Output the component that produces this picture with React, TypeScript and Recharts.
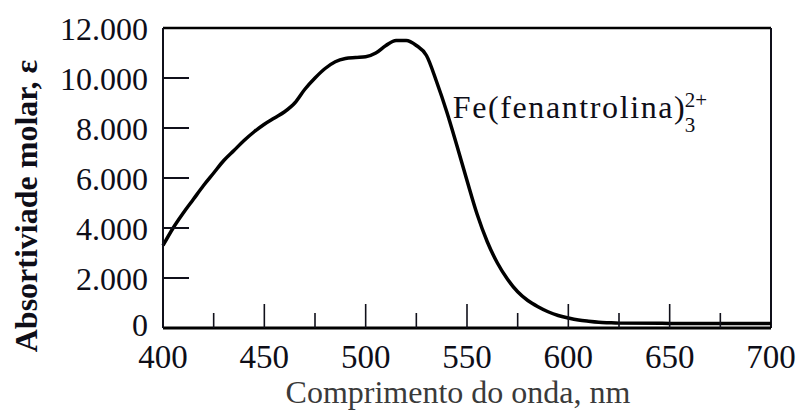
import React from 'react';
import { LineChart, Line, XAxis, YAxis, ReferenceLine, ReferenceDot } from 'recharts';

const wavelengths = [
  400, 405, 410, 415, 420, 425, 430, 435, 440, 445, 450, 455, 460, 465, 470, 475,
  480, 485, 490, 495, 500, 505, 510, 515, 520, 525, 530, 535, 540, 545, 550, 555,
  560, 565, 570, 575, 580, 585, 590, 595, 600, 605, 610, 615, 620, 625, 650, 675, 700,
];
const absorptivity = [
  3300, 4000, 4600, 5150, 5700, 6200, 6700, 7100, 7500, 7850, 8150, 8400, 8650, 9000, 9550, 10000,
  10380, 10650, 10780, 10820, 10850, 11000, 11300, 11500, 11500, 11300, 10900, 9850, 8650, 7300, 5900, 4550,
  3450, 2600, 1950, 1450, 1100, 850, 650, 500, 400, 320, 270, 230, 210, 195, 185, 180, 180,
];
const xTicks = [400, 425, 450, 475, 500, 525, 550, 575, 600, 625, 650, 675, 700];
const yTicks = [0, 2000, 4000, 6000, 8000, 10000, 12000];
const yTickLabels = ['0', '2.000', '4.000', '6.000', '8.000', '10.000', '12.000'];
const xTitle = 'Comprimento do onda, nm';
const yTitle = 'Absortiviade molar, \u03B5';
const annotationText = 'Fe(fenantrolina)';
const annotationSub = '3';
const annotationSup = '2+';
const annotationAt = { w: 543, e: 8400 };

const data = wavelengths.map((w, i) => ({ w, e: absorptivity[i] }));

const FONT = '"Liberation Serif", "Times New Roman", serif';
const TEXT = '#0e0e18';

const XTick = (props: any) => {
  const { x, y, payload } = props;
  const v = payload.value;
  const major = v % 50 === 0;
  const len = major ? 24 : 15;
  const showLine = v !== 400 && v !== 700;
  return (
    <g>
      {showLine && <line x1={x} x2={x} y1={y} y2={y - len} stroke="#10101a" strokeWidth={1.6} />}
      {major && (
        <text x={x} y={y + 40} textAnchor="middle" fontFamily={FONT} fontSize={33} fill={TEXT}>
          {v}
        </text>
      )}
    </g>
  );
};

const YTick = (props: any) => {
  const { x, y, payload } = props;
  const v = payload.value;
  const idx = yTicks.indexOf(v);
  const showLine = v !== 0 && v !== 12000;
  const dy = v === 0 ? 8 : 12;
  return (
    <g>
      {showLine && <line x1={x} x2={x + 26} y1={y} y2={y} stroke="#10101a" strokeWidth={2} />}
      <text x={x - 15} y={y + dy} textAnchor="end" fontFamily={FONT} fontSize={32} fill={TEXT}>
        {idx >= 0 ? yTickLabels[idx] : v}
      </text>
    </g>
  );
};

const XTitle = (props: any) => {
  const vb = props.viewBox;
  return (
    <text x={vb.x + vb.width / 2 - 9} y={vb.y + 75} textAnchor="middle" fontFamily={FONT} fontSize={32} fill="#3a3a3a">
      {xTitle}
    </text>
  );
};

const YTitle = (props: any) => {
  const vb = props.viewBox;
  const cx = vb.x + 26;
  const cy = vb.y + vb.height / 2 + 28;
  return (
    <text
      x={cx}
      y={cy}
      transform={`rotate(-90 ${cx} ${cy})`}
      textAnchor="middle"
      dominantBaseline="central"
      fontFamily={FONT}
      fontWeight="bold"
      fontSize={32}
      fill={TEXT}
    >
      {yTitle}
    </text>
  );
};

const Annotation = (props: any) => {
  const vb = props.viewBox;
  const x = vb.x;
  const y = vb.y;
  return (
    <g>
      <text x={x} y={y} fontFamily={FONT} fontSize={32} letterSpacing={1.6} fill={TEXT}>
        {annotationText}
      </text>
      <text x={x + 232} y={y + 14} fontFamily={FONT} fontSize={21} fill={TEXT}>
        {annotationSub}
      </text>
      <text x={x + 232} y={y - 11} fontFamily={FONT} fontSize={21} fill={TEXT}>
        {annotationSup}
      </text>
    </g>
  );
};

export default function App() {
  return (
    <div style={{ position: 'absolute', left: 0, top: 0, width: 801, height: 413, background: '#fff' }}>
      <LineChart width={801} height={413} data={data} margin={{ top: 28, right: 30, left: 0, bottom: 0 }}>
        <XAxis
          type="number"
          dataKey="w"
          domain={[400, 700]}
          ticks={xTicks}
          interval={0}
          height={85}
          axisLine={{ stroke: '#000', strokeWidth: 3 }}
          tickLine={false}
          tickSize={0}
          tickMargin={0}
          tick={<XTick />}
          label={<XTitle />}
        />
        <YAxis
          type="number"
          domain={[0, 12000]}
          ticks={yTicks}
          interval={0}
          width={163}
          axisLine={{ stroke: '#10101a', strokeWidth: 2 }}
          tickLine={false}
          tickSize={0}
          tickMargin={0}
          tick={<YTick />}
          label={<YTitle />}
        />
        <ReferenceLine y={12000} stroke="#000" strokeWidth={2.5} />
        <ReferenceLine x={700} stroke="#10101a" strokeWidth={2} />
        <Line
          type="monotone"
          dataKey="e"
          stroke="#000"
          strokeWidth={3.5}
          dot={false}
          isAnimationActive={false}
        />
        <ReferenceDot x={annotationAt.w} y={annotationAt.e} r={0} stroke="none" fill="none" label={<Annotation />} />
      </LineChart>
    </div>
  );
}
